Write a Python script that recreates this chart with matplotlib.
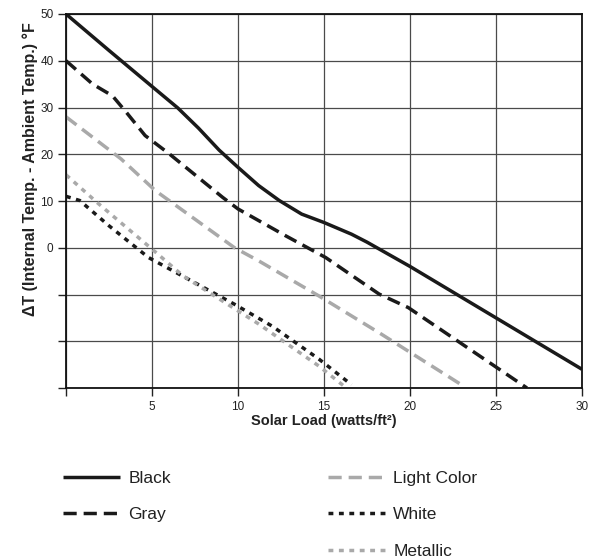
import matplotlib
matplotlib.use("Agg")
import matplotlib.pyplot as plt

plt.rcParams['font.family'] = ['Liberation Sans', 'DejaVu Sans']

# Data
black_x = [0, 2.5, 5.0, 6.5, 7.7, 8.9, 10.0, 11.2, 12.4, 13.7, 15.0, 16.6, 17.5, 20.0, 25.0, 30.0]
black_y = [50, 42.2, 34.5, 29.9, 25.6, 20.9, 17.2, 13.3, 10.1, 7.2, 5.4, 2.9, 1.2, -4.0, -15.0, -26.0]

gray_x = [0, 1.55, 2.7, 3.5, 4.6, 6.0, 9.1, 10.0, 12.75, 15.1, 18.2, 19.9, 26.8]
gray_y = [40, 35.0, 32.5, 29.0, 24.0, 20.1, 10.8, 8.3, 2.6, -2.1, -9.9, -12.8, -30.0]

light_x = [0, 3.2, 5.2, 9.8, 11.2, 14.7, 18.3, 23.2]
light_y = [28, 19.0, 12.2, 0.0, -2.8, -10.3, -18.4, -29.8]

white_x = [0, 0.8, 2.5, 4.8, 8.0, 9.8, 12.0, 14.7, 16.6]
white_y = [11, 10.1, 4.7, -2.1, -8.5, -12.1, -16.8, -23.8, -29.3]

metal_x = [0, 1.8, 5.1, 6.8, 9.7, 11.2, 14.7, 16.3]
metal_y = [15.6, 9.7, -0.6, -6.0, -12.8, -16.3, -25.3, -30.0]

x_ticks = [0, 5, 10, 15, 20, 25, 30]
x_ticklabels = ['', '5', '10', '15', '20', '25', '30']
y_ticks = [-30, -20, -10, 0, 10, 20, 30, 40, 50]
y_ticklabels = ['', '', '', '0', '10', '20', '30', '40', '50']

DARK = '#1a1a1a'
LIGHT = '#a9a9a9'

fig = plt.figure(figsize=(5.89, 5.59), dpi=100)
ax = fig.add_axes([66/589, 1-388/559, (582-66)/589, (388-14)/559])

lw = 2.5
l_black, = ax.plot(black_x, black_y, color=DARK, lw=lw, solid_capstyle='butt',
                   solid_joinstyle='round', label='Black')
l_gray, = ax.plot(gray_x, gray_y, color=DARK, lw=lw, dashes=(3.8, 2.0), label='Gray')
l_light, = ax.plot(light_x, light_y, color=LIGHT, lw=lw, dashes=(3.8, 2.0), label='Light Color')
l_white, = ax.plot(white_x, white_y, color=DARK, lw=lw, dashes=(1.4, 1.6), label='White')
l_metal, = ax.plot(metal_x, metal_y, color=LIGHT, lw=lw, dashes=(1.4, 1.6), label='Metallic')

ax.set_xlim(0, 30)
ax.set_ylim(-30, 50)
ax.set_xticks(x_ticks)
ax.set_xticklabels(x_ticklabels)
ax.set_yticks(y_ticks)
ax.set_yticklabels(y_ticklabels)
ax.tick_params(axis='both', direction='out', length=6, width=1.0, labelsize=8.5,
               colors='#222222', pad=3)
ax.grid(True, color='#4a4a4a', lw=0.9)
ax.set_axisbelow(True)
for s in ax.spines.values():
    s.set_color('#111111')
    s.set_linewidth(1.3)

ax.set_xlabel('Solar Load (watts/ft²)', fontsize=10.5, fontweight='bold', color='#222222', labelpad=1)
ax.set_ylabel('ΔT (Internal Temp. - Ambient Temp.) °F', fontsize=11.5, fontweight='bold',
              color='#222222')
ax.yaxis.set_label_coords(-0.055, 0.586)

leg_kw = dict(frameon=False, fontsize=12.5, handlelength=3.3, handletextpad=0.46,
              labelspacing=1.22, borderpad=0, borderaxespad=0, loc='upper left',
              labelcolor='#222222')
leg1 = fig.legend(handles=[l_black, l_gray], bbox_to_anchor=(63/589, 1-471/559), **leg_kw)
leg2 = fig.legend(handles=[l_light, l_white, l_metal], bbox_to_anchor=(328/589, 1-471/559), **leg_kw)

fig.savefig('out.png', dpi=100)
